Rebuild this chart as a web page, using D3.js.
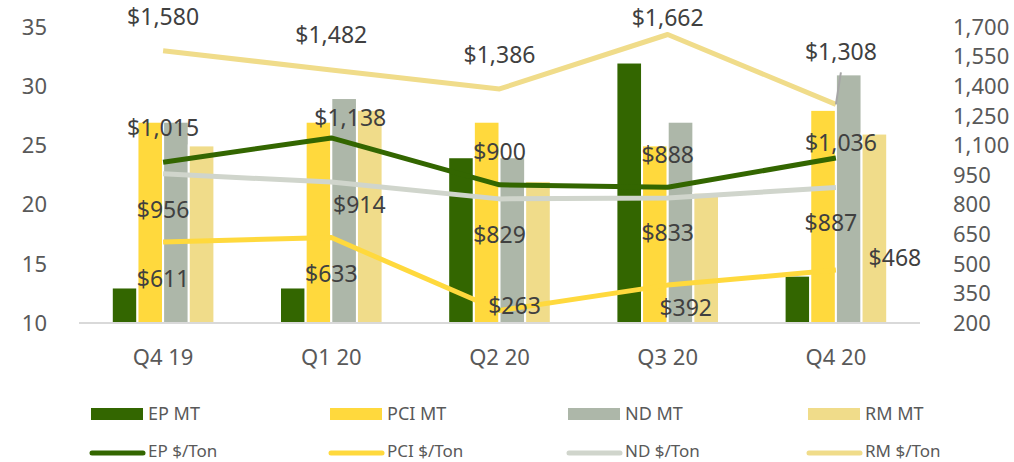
<!DOCTYPE html>
<html>
<head>
<meta charset="utf-8">
<script src="https://cdn.jsdelivr.net/npm/d3@7"></script>
<style>
  body { margin: 0; background: #fff; }
  svg { display: block; font-family: "Noto Sans", sans-serif; }
</style>
</head>
<body>
<svg id="chart"></svg>
<script>
// DATA
var quarters = ["Q4 19", "Q1 20", "Q2 20", "Q3 20", "Q4 20"];
var epMT  = [13, 13, 24, 32, 14];
var pciMT = [27, 27, 27, 25, 28];
var ndMT  = [27, 29, 24, 27, 31];
var rmMT  = [25, 28, 22, 21, 26];
var epTon  = [1015, 1138, 900, 888, 1036];
var pciTon = [611, 633, 263, 392, 468];
var ndTon  = [956, 914, 829, 833, 887];
var rmTon  = [1580, 1482, 1386, 1662, 1308];
var leftTicks = [10, 15, 20, 25, 30, 35];
var rightTicks = [200, 350, 500, 650, 800, 950, 1100, 1250, 1400, 1550, 1700];

// LAYOUT
var w = 1014, h = 462;
var plot = {left: 79, right: 920, top: 27, bottom: 323};

var barSeries = [
  {name: "EP MT",  values: epMT,  color: "#336600"},
  {name: "PCI MT", values: pciMT, color: "#FFD93D"},
  {name: "ND MT",  values: ndMT,  color: "#ADB7A9"},
  {name: "RM MT",  values: rmMT,  color: "#F0DC8A"}
];
var lineSeries = [
  {key: "ep",  name: "EP $/Ton",  values: epTon,  color: "#336600"},
  {key: "pci", name: "PCI $/Ton", values: pciTon, color: "#FFD93D"},
  {key: "nd",  name: "ND $/Ton",  values: ndTon,  color: "#D0D5CC"},
  {key: "rm",  name: "RM $/Ton",  values: rmTon,  color: "#F0DC8A"}
];
// label offsets from the point (hand placed, like the original)
var labelNudge = {
  ep:  [[0, -34], [19, -20], [0, -33], [0, -32], [5, -15]],
  pci: [[0, 37], [0, 36], [15, -5], [18, 23], [59, -12]],
  nd:  [[0, 36], [28, 23], [0, 36], [0, 35], [-5, 36]],
  rm:  [[0, -34], [0, -35], [0, -34], [0, -17], [5, -52]]
};

var svg = d3.select("#chart").attr("width", w).attr("height", h);
svg.append("rect").attr("width", w).attr("height", h).attr("fill", "#fff");

var x0 = d3.scaleBand().domain(quarters).range([plot.left, plot.right])
  .paddingInner(0.39).paddingOuter(0.195);
var x1 = d3.scaleBand().domain(barSeries.map(function(d) { return d.name; }))
  .range([0, x0.bandwidth()]);
var yL = d3.scaleLinear().domain([10, 35]).range([plot.bottom, plot.top]);
var yR = d3.scaleLinear().domain([200, 1700]).range([plot.bottom, plot.top]);
function cx(q) { return x0(q) + x0.bandwidth() / 2; }

// axis tick labels
svg.append("g").selectAll("text").data(leftTicks).enter().append("text")
  .attr("x", 47).attr("y", function(d) { return yL(d); })
  .attr("dy", "0.35em").attr("text-anchor", "end")
  .attr("font-size", 22).attr("fill", "#595959")
  .text(function(d) { return d; });

svg.append("g").selectAll("text").data(rightTicks).enter().append("text")
  .attr("x", 953).attr("y", function(d) { return yR(d); })
  .attr("dy", "0.35em").attr("text-anchor", "start")
  .attr("font-size", 22).attr("fill", "#595959")
  .text(function(d) { return d3.format(",")(d); });

svg.append("g").selectAll("text").data(quarters).enter().append("text")
  .attr("x", function(d) { return cx(d); }).attr("y", 365)
  .attr("text-anchor", "middle")
  .attr("font-size", 22).attr("fill", "#595959")
  .text(function(d) { return d; });

// bars
var groups = svg.append("g").selectAll("g").data(quarters).enter().append("g")
  .attr("transform", function(d) { return "translate(" + x0(d) + ",0)"; });

groups.selectAll("rect")
  .data(function(q, i) { return barSeries.map(function(s) { return {s: s, v: s.values[i]}; }); })
  .enter().append("rect")
  .attr("x", function(d) { return x1(d.s.name); })
  .attr("width", x1.bandwidth())
  .attr("y", function(d) { return yL(d.v); })
  .attr("height", function(d) { return yL(10) - yL(d.v); })
  .attr("fill", function(d) { return d.s.color; })
  .attr("stroke", "#fff").attr("stroke-width", 2);

// baseline
svg.append("line")
  .attr("x1", plot.left).attr("x2", plot.right)
  .attr("y1", plot.bottom).attr("y2", plot.bottom)
  .attr("stroke", "#D9D9D9").attr("stroke-width", 2);

// lines
var line = d3.line()
  .x(function(d, i) { return cx(quarters[i]); })
  .y(function(d) { return yR(d); });

lineSeries.forEach(function(s) {
  svg.append("path")
    .attr("d", line(s.values))
    .attr("fill", "none")
    .attr("stroke", s.color)
    .attr("stroke-width", 5)
    .attr("stroke-linejoin", "round");
});

// leader line for the moved RM label
svg.append("line")
  .attr("x1", cx(quarters[4])).attr("y1", yR(rmTon[4]))
  .attr("x2", cx(quarters[4]) + 5).attr("y2", yR(rmTon[4]) - 32)
  .attr("stroke", "#A6A6A6").attr("stroke-width", 2);

// data labels
lineSeries.forEach(function(s) {
  svg.append("g").selectAll("text").data(s.values).enter().append("text")
    .attr("x", function(d, i) { return cx(quarters[i]) + labelNudge[s.key][i][0]; })
    .attr("y", function(d, i) { return yR(d) + labelNudge[s.key][i][1]; })
    .attr("dy", "0.35em").attr("text-anchor", "middle")
    .attr("font-size", 23).attr("fill", "#404040")
    .text(function(d) { return "$" + d3.format(",")(d); });
});

// legend
var legX = [91, 330, 568, 808];
var leg1 = svg.append("g").selectAll("g").data(barSeries).enter().append("g")
  .attr("transform", function(d, i) { return "translate(" + legX[i] + ",0)"; });
leg1.append("rect").attr("x", 0).attr("y", 408).attr("width", 52).attr("height", 12)
  .attr("fill", function(d) { return d.color; });
leg1.append("text").attr("x", 57).attr("y", 420)
  .attr("font-size", 18).attr("fill", "#595959")
  .text(function(d) { return d.name; });

var leg2 = svg.append("g").selectAll("g").data(lineSeries).enter().append("g")
  .attr("transform", function(d, i) { return "translate(" + legX[i] + ",0)"; });
leg2.append("line").attr("x1", 1).attr("x2", 52).attr("y1", 453).attr("y2", 453)
  .attr("stroke", function(d) { return d.color; })
  .attr("stroke-width", 5).attr("stroke-linecap", "round");
leg2.append("text").attr("x", 57).attr("y", 457)
  .attr("font-size", 17).attr("fill", "#595959")
  .text(function(d) { return d.name; });
</script>
</body>
</html>
